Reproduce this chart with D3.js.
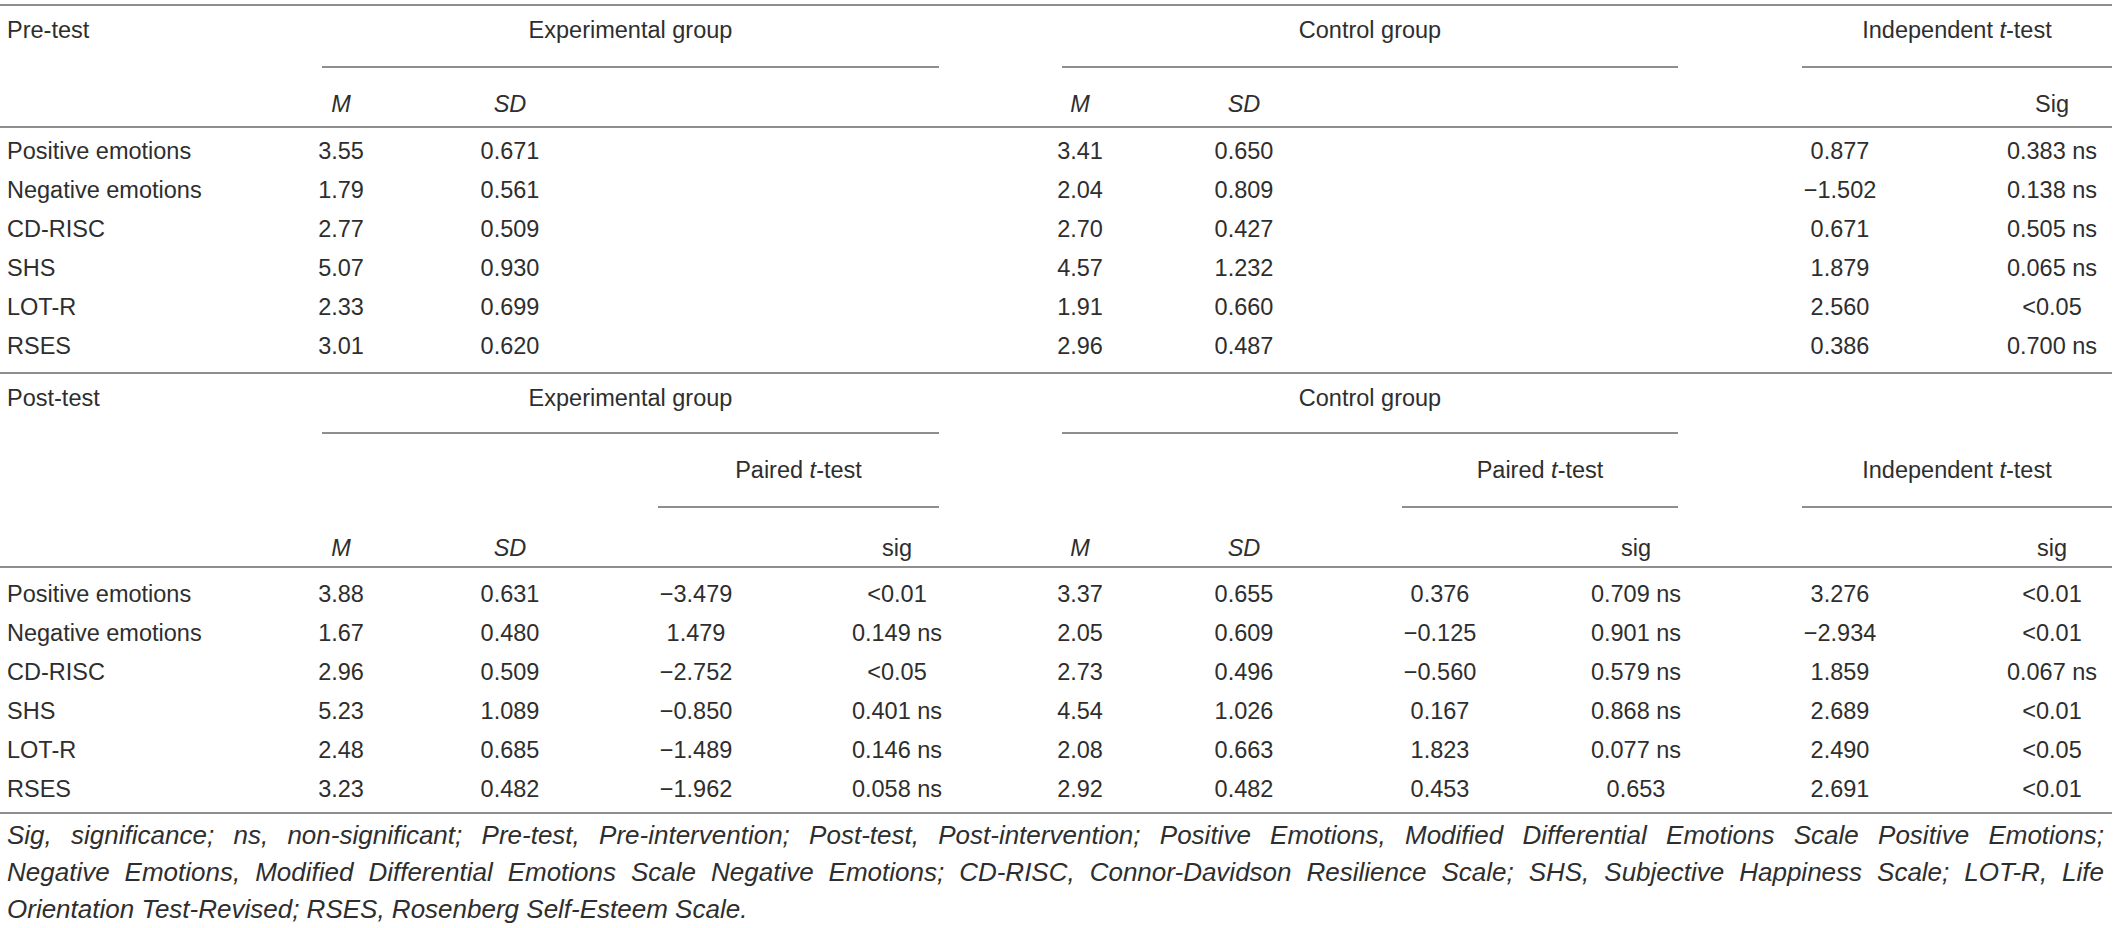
<!DOCTYPE html>
<html>
<head>
<meta charset="utf-8">
<script src="https://cdn.jsdelivr.net/npm/d3@7"></script>
<style>
  html, body { margin: 0; padding: 0; background: #fff; }
  svg { display: block; }
  text { font-family: "Liberation Sans", Arial, Helvetica, sans-serif; fill: #2e2e2e; }
</style>
</head>
<body>
<svg id="chart" width="2117" height="928"></svg>
<script>
// ---------------- data ----------------
const measures = ["Positive emotions", "Negative emotions", "CD-RISC", "SHS", "LOT-R", "RSES"];

const preExpM   = ["3.55", "1.79", "2.77", "5.07", "2.33", "3.01"];
const preExpSD  = ["0.671", "0.561", "0.509", "0.930", "0.699", "0.620"];
const preCtrlM  = ["3.41", "2.04", "2.70", "4.57", "1.91", "2.96"];
const preCtrlSD = ["0.650", "0.809", "0.427", "1.232", "0.660", "0.487"];
const preIndT   = ["0.877", "\u22121.502", "0.671", "1.879", "2.560", "0.386"];
const preIndSig = ["0.383 ns", "0.138 ns", "0.505 ns", "0.065 ns", "<0.05", "0.700 ns"];

const postExpM    = ["3.88", "1.67", "2.96", "5.23", "2.48", "3.23"];
const postExpSD   = ["0.631", "0.480", "0.509", "1.089", "0.685", "0.482"];
const postExpT    = ["\u22123.479", "1.479", "\u22122.752", "\u22120.850", "\u22121.489", "\u22121.962"];
const postExpSig  = ["<0.01", "0.149 ns", "<0.05", "0.401 ns", "0.146 ns", "0.058 ns"];
const postCtrlM   = ["3.37", "2.05", "2.73", "4.54", "2.08", "2.92"];
const postCtrlSD  = ["0.655", "0.609", "0.496", "1.026", "0.663", "0.482"];
const postCtrlT   = ["0.376", "\u22120.125", "\u22120.560", "0.167", "1.823", "0.453"];
const postCtrlSig = ["0.709 ns", "0.901 ns", "0.579 ns", "0.868 ns", "0.077 ns", "0.653"];
const postIndT    = ["3.276", "\u22122.934", "1.859", "2.689", "2.490", "2.691"];
const postIndSig  = ["<0.01", "<0.01", "0.067 ns", "<0.01", "<0.05", "<0.01"];

const footnoteLines = [
  "Sig, significance; ns, non-significant; Pre-test, Pre-intervention; Post-test, Post-intervention; Positive Emotions, Modified Differential Emotions Scale Positive Emotions;",
  "Negative Emotions, Modified Differential Emotions Scale Negative Emotions; CD-RISC, Connor-Davidson Resilience Scale; SHS, Subjective Happiness Scale; LOT-R, Life",
  "Orientation Test-Revised; RSES, Rosenberg Self-Esteem Scale."
];

// ---------------- layout ----------------
const W = 2117, RIGHT = 2112, FS = 23.5, FS_FOOT = 26;
const svg = d3.select("#chart");
svg.append("rect").attr("width", W).attr("height", 928).attr("fill", "#fff");

const colKeys = ["m1", "sd1", "t1", "sig1", "m2", "sd2", "t2", "sig2", "t3", "sig3"];
const x = d3.scaleOrdinal().domain(colKeys)
  .range([341, 510, 696, 897, 1080, 1244, 1440, 1636, 1840, 2052]);
const LABEL_X = 7;

const yPre  = d3.scalePoint().domain(measures).range([159, 354]);
const yPost = d3.scalePoint().domain(measures).range([602, 797]);

// rules
const rules = [
  {x1: 0, x2: RIGHT, y: 5},
  {x1: 322, x2: 939, y: 67}, {x1: 1062, x2: 1678, y: 67}, {x1: 1802, x2: RIGHT, y: 67},
  {x1: 0, x2: RIGHT, y: 127},
  {x1: 0, x2: RIGHT, y: 373},
  {x1: 322, x2: 939, y: 433}, {x1: 1062, x2: 1678, y: 433},
  {x1: 658, x2: 939, y: 507}, {x1: 1402, x2: 1678, y: 507}, {x1: 1802, x2: RIGHT, y: 507},
  {x1: 0, x2: RIGHT, y: 567},
  {x1: 0, x2: RIGHT, y: 813}
];
svg.append("g").selectAll("line").data(rules).join("line")
  .attr("x1", d => d.x1).attr("x2", d => d.x2)
  .attr("y1", d => d.y).attr("y2", d => d.y)
  .attr("stroke", "#8e8e8e").attr("stroke-width", 2);

const g = svg.append("g").attr("font-size", FS);

function label(txt, xx, yy, anchor, italic) {
  return g.append("text").attr("x", xx).attr("y", yy)
    .attr("text-anchor", anchor || "start")
    .attr("font-style", italic ? "italic" : "normal")
    .text(txt);
}
function ttest(prefix, xx, yy) {
  const t = g.append("text").attr("x", xx).attr("y", yy).attr("text-anchor", "middle");
  if (prefix) t.append("tspan").text(prefix + " ");
  t.append("tspan").attr("font-style", "italic").text("t");
  t.append("tspan").text("-test");
  return t;
}
const mid = (a, b) => (a + b) / 2;

// Pre-test header
label("Pre-test", LABEL_X, 38);
label("Experimental group", mid(322, 939), 38, "middle");
label("Control group", mid(1062, 1678), 38, "middle");
ttest("Independent", mid(1802, RIGHT), 38);
label("M", x("m1"), 112, "middle", true);
label("SD", x("sd1"), 112, "middle", true);
label("M", x("m2"), 112, "middle", true);
label("SD", x("sd2"), 112, "middle", true);
label("Sig", x("sig3"), 112, "middle");

// Post-test header
label("Post-test", LABEL_X, 406);
label("Experimental group", mid(322, 939), 406, "middle");
label("Control group", mid(1062, 1678), 406, "middle");
ttest("Paired", mid(658, 939), 478);
ttest("Paired", mid(1402, 1678), 478);
ttest("Independent", mid(1802, RIGHT), 478);
label("M", x("m1"), 556, "middle", true);
label("SD", x("sd1"), 556, "middle", true);
label("sig", x("sig1"), 556, "middle");
label("M", x("m2"), 556, "middle", true);
label("SD", x("sd2"), 556, "middle", true);
label("sig", x("sig2"), 556, "middle");
label("sig", x("sig3"), 556, "middle");

// body rows
function drawBlock(yScale, cols) {
  const rows = measures.map((m, i) => ({m, i}));
  const rg = g.append("g").selectAll("g").data(rows).join("g");
  rg.append("text").attr("x", LABEL_X).attr("y", d => yScale(d.m)).text(d => d.m);
  cols.forEach(c => {
    rg.append("text")
      .attr("x", x(c.key)).attr("y", d => yScale(d.m))
      .attr("text-anchor", "middle")
      .text(d => c.values[d.i]);
  });
}
drawBlock(yPre, [
  {key: "m1", values: preExpM}, {key: "sd1", values: preExpSD},
  {key: "m2", values: preCtrlM}, {key: "sd2", values: preCtrlSD},
  {key: "t3", values: preIndT}, {key: "sig3", values: preIndSig}
]);
drawBlock(yPost, [
  {key: "m1", values: postExpM}, {key: "sd1", values: postExpSD},
  {key: "t1", values: postExpT}, {key: "sig1", values: postExpSig},
  {key: "m2", values: postCtrlM}, {key: "sd2", values: postCtrlSD},
  {key: "t2", values: postCtrlT}, {key: "sig2", values: postCtrlSig},
  {key: "t3", values: postIndT}, {key: "sig3", values: postIndSig}
]);

// footnote (justified, last line natural)
const yFoot = d3.scalePoint().domain(d3.range(footnoteLines.length)).range([844, 918]);
const JUST_RIGHT = 2104;
svg.append("g").attr("font-size", FS_FOOT).selectAll("text").data(footnoteLines).join("text")
  .attr("x", LABEL_X).attr("y", (d, i) => yFoot(i))
  .attr("font-style", "italic")
  .text(d => d)
  .each(function(d, i) {
    if (i === footnoteLines.length - 1) return;
    const w = this.getComputedTextLength();
    const target = JUST_RIGHT - LABEL_X;
    const spaces = (d.match(/ /g) || []).length;
    if (w < target && spaces > 0) {
      d3.select(this).attr("word-spacing", (target - w) / spaces);
    } else if (w > target) {
      d3.select(this).attr("textLength", target).attr("lengthAdjust", "spacingAndGlyphs");
    }
  });
</script>
</body>
</html>
